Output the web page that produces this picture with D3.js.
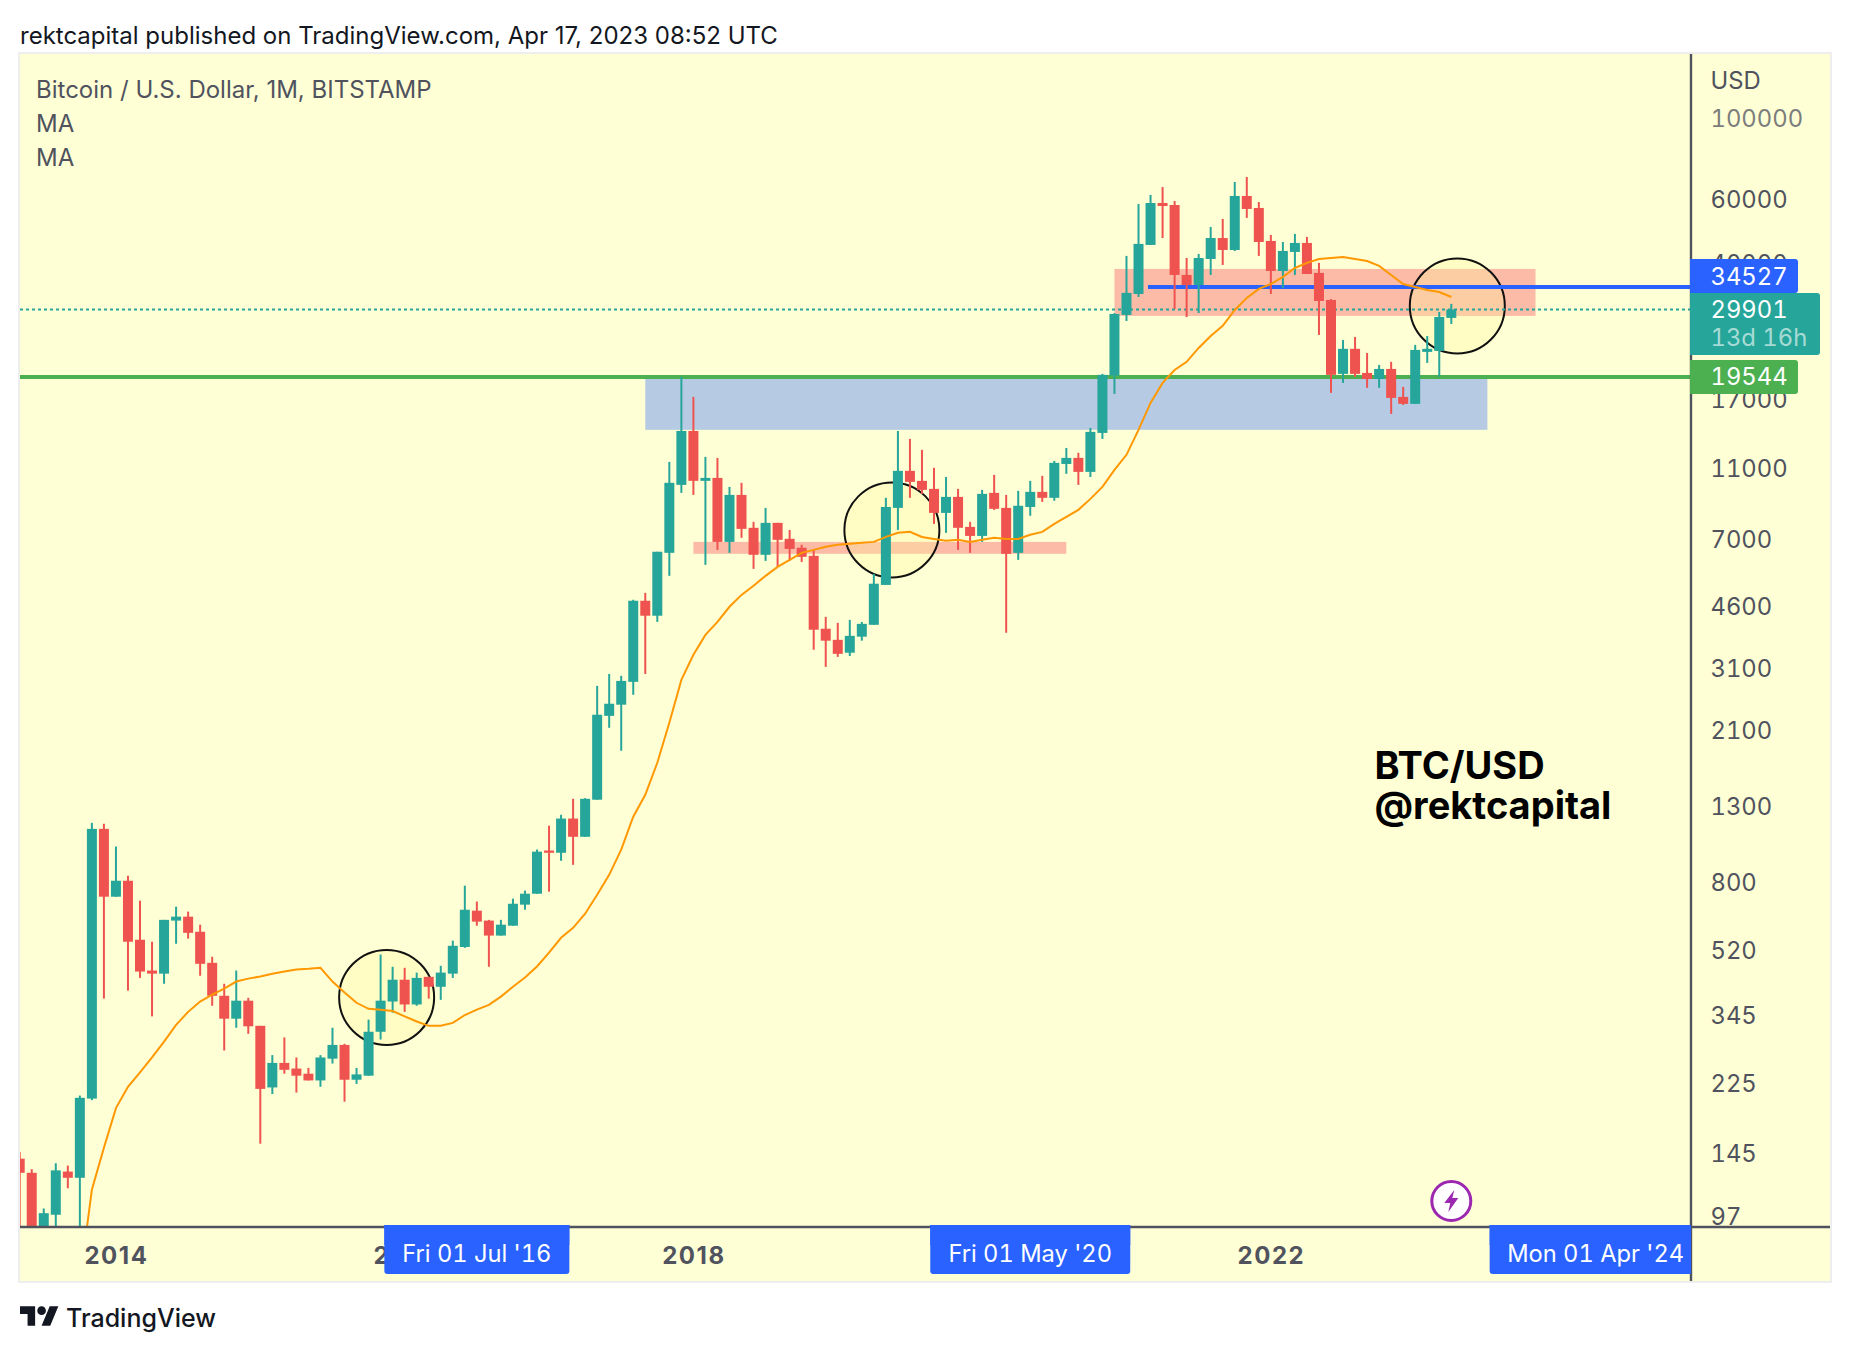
<!DOCTYPE html>
<html>
<head>
<meta charset="utf-8">
<title>BTC/USD</title>
<script src="https://cdn.jsdelivr.net/npm/d3@7"></script>
<style>
    body { margin: 0; background: #fff; }
    svg { display: block; font-family: Inter, "Noto Sans", sans-serif; }
</style>
</head>
<body>
<div id="chart"></div>
<script>
// Monthly candles, May 2013 to Apr 2023
const opens = [
    141, 129, 88, 99, 130, 125, 206, 1129,
    736, 814, 561, 462, 453, 633, 649, 590, 485, 394, 341, 382,
    326, 221, 258, 249, 241, 231, 265, 289, 232, 238, 314, 380,
    436, 373, 444, 417, 453, 536, 674, 633, 576, 613, 700, 750,
    985, 971, 1205, 1074, 1357, 2303, 2471, 2854, 4760, 4331, 6440, 9885,
    13890, 10140, 10330, 6900, 9280, 7540, 6360, 7780, 7035, 6650, 6320, 3990,
    3720, 3430, 3795, 4090, 5260, 8550, 10800, 10140, 9640, 8285, 9165, 7585,
    7165, 9400, 8550, 6440, 8600, 9460, 9110, 11280, 11720, 10730, 13720, 19700,
    28880, 32960, 44900, 58500, 57770, 37160, 34890, 41100, 46900, 43500, 61150, 56700,
    46050, 38100, 42960, 45470, 37640, 31740, 19910, 23320, 20030, 19280, 20540, 17220,
    16480, 22870, 23010, 28340
];
const highs = [
    147, 132, 103, 137, 135, 210, 1173, 1166,
    1010, 840, 718, 554, 636, 691, 670, 617, 504, 425, 462, 389,
    326, 271, 303, 267, 250, 271, 322, 291, 250, 339, 511, 473,
    470, 456, 444, 476, 558, 789, 714, 636, 636, 727, 765, 991,
    1152, 1234, 1365, 1370, 2783, 3000, 2965, 4790, 5003, 6484, 11430, 19540,
    17220, 11800, 11720, 9760, 10015, 7830, 8550, 7780, 7440, 6775, 6560, 4300,
    4140, 4220, 4166, 5640, 9110, 13890, 13210, 12330, 11010, 10390, 9640, 7830,
    9580, 10530, 9280, 9520, 10140, 10465, 11500, 12480, 12100, 14160, 19910, 29200,
    41900, 58150, 61550, 64700, 59250, 41360, 42430, 50300, 52900, 66800, 68950, 58870,
    47820, 45750, 48140, 47220, 40090, 31900, 24660, 25130, 22720, 21070, 21480, 18340,
    23910, 25280, 29430, 30950
];
const lows = [
    79, 64, 65, 85, 117, 85, 204, 387,
    736, 407, 441, 346, 425, 547, 565, 447, 370, 279, 322, 310,
    155, 212, 241, 214, 231, 222, 257, 202, 226, 238, 299, 354,
    356, 370, 387, 384, 441, 533, 613, 473, 576, 613, 678, 750,
    760, 923, 900, 1074, 1357, 2136, 1848, 2630, 3000, 4166, 5570, 9400,
    9280, 5970, 6560, 6440, 7080, 5820, 6120, 5890, 6120, 6080, 3495, 3137,
    3340, 3360, 3700, 4090, 5260, 7440, 9110, 9340, 7730, 7305, 6560, 6440,
    6900, 8440, 3890, 6160, 8135, 8880, 8940, 10600, 9885, 10390, 13210, 17550,
    27800, 32340, 44900, 46900, 30000, 28500, 29230, 37160, 39580, 43200, 53250, 41900,
    32960, 34240, 37160, 37390, 25450, 17660, 18810, 19540, 18230, 18230, 15470, 16370,
    16480, 21340, 19540, 27280
];
const closes = [
    129, 88, 100, 131, 125, 207, 1129, 736,
    814, 554, 459, 453, 636, 649, 586, 482, 394, 341, 382, 325,
    219, 258, 247, 238, 231, 267, 289, 232, 240, 314, 382, 436,
    373, 441, 417, 456, 540, 678, 629, 576, 617, 704, 750, 978,
    971, 1205, 1074, 1365, 2319, 2486, 2871, 4760, 4331, 6484, 10015, 13890,
    10140, 10330, 6900, 9280, 7490, 6360, 7780, 6990, 6600, 6280, 3965, 3700,
    3405, 3815, 4115, 5300, 8600, 10800, 10075, 9580, 8285, 9165, 7540, 7165,
    9340, 8500, 6400, 8665, 9460, 9110, 11360, 11720, 10730, 13810, 19790, 29060,
    33190, 45200, 58500, 57400, 37160, 34890, 41360, 46900, 43500, 61150, 56350, 45750,
    38100, 43230, 45470, 37390, 31530, 19790, 23320, 19910, 19280, 20540, 17110, 16480,
    23160, 23320, 28510, 29901
];

// Moving average, first value belongs to candle 5 (Oct 2013)
const maOffset = 5;
const maValues = [
    65, 116, 151, 194, 222, 243, 267, 295, 328, 356, 380, 397, 412, 431, 439,
    445, 453, 459, 465, 467, 470, 431, 402, 377, 363, 361, 358, 346, 335, 326,
    326, 332, 349, 361, 372, 392, 417, 442, 474, 517, 568, 605, 661, 745, 845,
    990, 1219, 1400, 1713, 2204, 2890, 3385, 3838, 4166, 4583, 4939, 5230, 5570, 5895, 6160,
    6440, 6560, 6690, 6775, 6815, 6860, 6900, 7120, 7305, 7350, 7120, 7030, 6945, 6990, 6900,
    6990, 7080, 7030, 7030, 7215, 7350, 7730, 8080, 8445, 9050, 9760, 10870, 11950, 13990, 16580,
    18810, 20410, 21480, 23450, 25290, 26950, 29800, 32150, 34020, 35100, 36690, 38830, 40090, 41100, 41360,
    41640, 41100, 40580, 39330, 37160, 35100, 34440, 33790, 33380, 32340
];

const priceTicks = [100000, 60000, 40000, 17000, 11000, 7000, 4600, 3100, 2100, 1300, 800, 520, 345, 225, 145, 97];
const yearTicks = [8, 32, 56, 80, 104, 128];
const yearLabels = ["2014", "2016", "2018", "2020", "2022", "2024"];

// Drawn zones: [first candle, last candle, top price, bottom price]
const blueZone = [52, 122, 19544, 13990];
const salmonZones = [[91, 126, 38600, 28700], [56, 87, 6900, 6400]];
const circleCandles = [30.5, 72.5, 119.5];
const circlePrices = [390, 7440, 30570];

const greenLevel = 19544;
const blueLevel = 34527;
const blueStart = 93.8;
const lastPrice = 29901;

const dateTagIndexes = [38, 84, 131];
const dateTagLabels = ["Fri 01 Jul '16", "Fri 01 May '20", "Mon 01 Apr '24"];
const dateTagWidths = [185, 200, 212];

const TEAL = "#26a69a", RED = "#ef5350", BLUE = "#2962ff", GREEN = "#4caf50";
const TEXT = "#50535e", PANE = "#ffffd6";
const FONT = 23.8;

const pane = { left: 20, right: 1830, top: 54, bottom: 1281 };
const axisX = 1691, axisY = 1227;

const svg = d3.select("#chart").append("svg")
    .attr("width", 1850)
    .attr("height", 1352);

const x = d3.scaleLinear().domain([0, 119]).range([19.7, 1451.3]);
const y = d3.scaleLog().domain([100000, 97]).range([118, 1218]);
// The printed tick labels sit a touch tighter than the candles
const yLabels = d3.scaleLog().domain([100000, 97]).range([119.3, 1217]);

svg.append("defs").append("clipPath").attr("id", "plot")
    .append("rect")
    .attr("x", pane.left).attr("y", pane.top)
    .attr("width", axisX - pane.left).attr("height", axisY - pane.top);
svg.select("defs").append("clipPath").attr("id", "timeTags")
    .append("rect")
    .attr("x", pane.left).attr("y", axisY - 2)
    .attr("width", axisX - pane.left).attr("height", 60);

// Header and pane
svg.append("text")
    .attr("x", 20).attr("y", 44)
    .attr("font-size", 24).attr("fill", "#131722")
    .text("rektcapital published on TradingView.com, Apr 17, 2023 08:52 UTC");

svg.append("rect")
    .attr("x", pane.left - 1).attr("y", pane.top - 1)
    .attr("width", pane.right - pane.left + 2).attr("height", pane.bottom - pane.top + 2)
    .attr("fill", PANE).attr("stroke", "#eeeeee").attr("stroke-width", 2);

const legendRows = ["Bitcoin / U.S. Dollar, 1M, BITSTAMP", "MA", "MA"];
svg.selectAll(".legend").data(legendRows).enter().append("text")
    .attr("class", "legend")
    .attr("x", 36)
    .attr("y", (d, i) => 98 + i * 34)
    .attr("font-size", 24).attr("fill", TEXT)
    .text(d => d);

const plot = svg.append("g").attr("clip-path", "url(#plot)");

// Zones
plot.append("rect")
    .attr("x", x(blueZone[0])).attr("y", y(blueZone[2]))
    .attr("width", x(blueZone[1]) - x(blueZone[0]))
    .attr("height", y(blueZone[3]) - y(blueZone[2]))
    .attr("fill", "#b6cbe3");

plot.selectAll(".zone").data(salmonZones).enter().append("rect")
    .attr("class", "zone")
    .attr("x", d => x(d[0]))
    .attr("y", d => y(d[2]))
    .attr("width", d => x(d[1]) - x(d[0]))
    .attr("height", d => y(d[3]) - y(d[2]))
    .attr("fill", "#fbbba6");

// Circles
plot.selectAll(".mark").data(circleCandles).enter().append("circle")
    .attr("class", "mark")
    .attr("cx", d => x(d))
    .attr("cy", (d, i) => y(circlePrices[i]))
    .attr("r", 47.5)
    .attr("fill", "#fff59d").attr("fill-opacity", 0.3)
    .attr("stroke", "#111").attr("stroke-width", 2);

// Levels
plot.append("line")
    .attr("x1", pane.left).attr("x2", axisX)
    .attr("y1", y(lastPrice)).attr("y2", y(lastPrice))
    .attr("stroke", TEAL).attr("stroke-width", 2).attr("stroke-dasharray", "3 3");

plot.append("line")
    .attr("x1", pane.left).attr("x2", axisX)
    .attr("y1", y(greenLevel)).attr("y2", y(greenLevel))
    .attr("stroke", GREEN).attr("stroke-width", 4)
    .attr("shape-rendering", "crispEdges");

plot.append("line")
    .attr("x1", x(blueStart)).attr("x2", axisX)
    .attr("y1", y(blueLevel)).attr("y2", y(blueLevel))
    .attr("stroke", BLUE).attr("stroke-width", 4)
    .attr("shape-rendering", "crispEdges");

// Candles
const candle = plot.selectAll(".candle").data(opens).enter().append("g")
    .attr("class", "candle")
    .attr("fill", (d, i) => closes[i] >= d ? TEAL : RED);

candle.append("rect")
    .attr("x", (d, i) => x(i) - 1)
    .attr("y", (d, i) => y(highs[i]))
    .attr("width", 2)
    .attr("height", (d, i) => y(lows[i]) - y(highs[i]));

candle.append("rect")
    .attr("x", (d, i) => x(i) - 5)
    .attr("y", (d, i) => y(Math.max(d, closes[i])))
    .attr("width", 10)
    .attr("height", (d, i) => Math.max(2, Math.abs(y(d) - y(closes[i]))));

// Moving average
const maLine = d3.line()
    .x((d, i) => x(i + maOffset))
    .y(d => y(d));

plot.append("path")
    .attr("d", maLine(maValues))
    .attr("fill", "none")
    .attr("stroke", "#ff9800")
    .attr("stroke-width", 2);

// Price axis
const priceAxis = d3.axisRight(yLabels)
    .tickValues(priceTicks)
    .tickFormat(d => String(d))
    .tickSize(0)
    .tickPadding(19.5);

const priceG = svg.append("g")
    .attr("transform", `translate(${axisX},0)`)
    .call(priceAxis);
priceG.select(".domain").remove();
priceG.selectAll("text")
    .attr("font-family", "Inter, sans-serif")
    .attr("font-size", FONT)
    .attr("fill", TEXT)
    .style("font-variant-numeric", "tabular-nums")
    .attr("opacity", d => d === 100000 ? 0.75 : 1);

svg.append("text")
    .attr("x", axisX + 19.5).attr("y", 89)
    .attr("font-size", FONT).attr("fill", TEXT)
    .text("USD");

// Time axis
const timeAxis = d3.axisBottom(x)
    .tickValues(yearTicks)
    .tickFormat((d, i) => yearLabels[i])
    .tickSize(0)
    .tickPadding(19.5);

const timeG = svg.append("g")
    .attr("transform", `translate(0,${axisY})`)
    .call(timeAxis);
timeG.select(".domain").remove();
timeG.selectAll("text")
    .attr("font-family", "Inter, sans-serif")
    .attr("font-size", 24)
    .attr("font-weight", 700)
    .attr("letter-spacing", 1.5)
    .attr("fill", TEXT);

// Axis lines
svg.append("line")
    .attr("x1", pane.left).attr("x2", pane.right)
    .attr("y1", axisY).attr("y2", axisY)
    .attr("stroke", TEXT).attr("stroke-width", 2.4);
svg.append("line")
    .attr("x1", axisX).attr("x2", axisX)
    .attr("y1", pane.top).attr("y2", pane.bottom)
    .attr("stroke", TEXT).attr("stroke-width", 2.4);

// Price tags
function priceTagPath(left, top, right, bottom) {
    const r = 3;
    return `M${left},${top}H${right - r}Q${right},${top} ${right},${top + r}` +
        `V${bottom - r}Q${right},${bottom} ${right - r},${bottom}H${left}Z`;
}

function addTagText(label, ty, fill) {
    return svg.append("text")
        .attr("x", axisX + 19.5).attr("y", ty)
        .attr("dy", "0.36em")
        .attr("font-size", FONT).attr("fill", fill)
        .style("font-variant-numeric", "tabular-nums")
        .text(label);
}

svg.append("path").attr("d", priceTagPath(axisX - 1, 259, 1798, 293)).attr("fill", BLUE);
addTagText(String(blueLevel), 276, "#fff");

svg.append("path").attr("d", priceTagPath(axisX - 1, 293, 1820, 355)).attr("fill", TEAL);
addTagText(String(lastPrice), y(lastPrice), "#fff");
addTagText("13d 16h", 337, "rgba(255,255,255,0.6)");

svg.append("path").attr("d", priceTagPath(axisX - 1, 360, 1798, 394)).attr("fill", GREEN);
addTagText(String(greenLevel), y(greenLevel), "#fff");

// Date tags
const dateTag = svg.append("g").attr("clip-path", "url(#timeTags)")
    .selectAll("g").data(dateTagIndexes).enter().append("g");

dateTag.append("rect")
    .attr("x", (d, i) => x(d) - dateTagWidths[i] / 2)
    .attr("y", axisY - 8)
    .attr("width", (d, i) => dateTagWidths[i])
    .attr("height", 55)
    .attr("rx", 3)
    .attr("fill", BLUE);
dateTag.append("rect")
    .attr("x", (d, i) => x(d) - dateTagWidths[i] / 2)
    .attr("y", axisY - 2)
    .attr("width", (d, i) => dateTagWidths[i])
    .attr("height", 20)
    .attr("fill", BLUE);
dateTag.append("text")
    .attr("x", d => x(d))
    .attr("y", 1262)
    .attr("text-anchor", "middle")
    .attr("font-size", 23.7)
    .attr("fill", "#fff")
    .style("font-variant-numeric", "tabular-nums")
    .text((d, i) => dateTagLabels[i]);

// Signature
svg.append("text")
    .attr("x", 1374.5).attr("y", 778.5)
    .attr("font-size", 38).attr("font-weight", 700).attr("fill", "#000")
    .text("BTC/USD");
svg.append("text")
    .attr("x", 1374.5).attr("y", 818.5)
    .attr("font-size", 38).attr("font-weight", 700).attr("fill", "#000")
    .text("@rektcapital");

// Purple bolt marker on the last candle
const bolt = svg.append("g").attr("transform", `translate(${x(119)},1201)`);
bolt.append("circle").attr("r", 19.5)
    .attr("fill", "#fff").attr("stroke", "#9c27b0").attr("stroke-width", 3);
bolt.append("path").attr("d", "M3,-11 L-7,2 L-1,2 L-3,11 L7,-3 L1,-3 Z").attr("fill", "#9c27b0");

// TradingView logo
const logo = svg.append("g")
    .attr("transform", "translate(20,1302) scale(1.08)")
    .attr("fill", "#131722");
logo.append("path").attr("d", "M14 22H7V11H0V4h14v18zM28 22h-8l7.5-18h8L28 22z");
logo.append("circle").attr("cx", 20).attr("cy", 8).attr("r", 4);

svg.append("text")
    .attr("x", 66).attr("y", 1327)
    .attr("font-size", 25).attr("font-weight", 500).attr("fill", "#131722")
    .text("TradingView");
</script>
</body>
</html>
